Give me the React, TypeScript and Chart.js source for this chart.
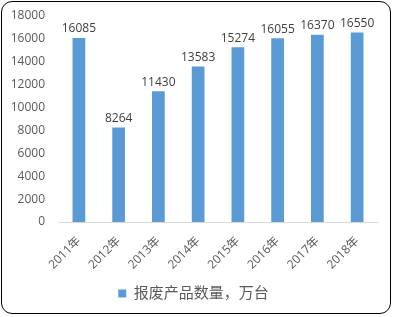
import React, { useEffect, useRef } from "react";
import { Chart, registerables } from "chart.js";

Chart.register(...registerables);

const categories = ["2011年", "2012年", "2013年", "2014年", "2015年", "2016年", "2017年", "2018年"];
const values = [16085, 8264, 11430, 13583, 15274, 16055, 16370, 16550];
const seriesName = "报废产品数量，万台";
const yMax = 18000;
const yStep = 2000;

const FONT = '"Open Sans", "Noto Sans CJK SC", sans-serif';
const TEXT = "#595959";

const valueLabels = {
  id: "valueLabels",
  afterDatasetsDraw(chart: any) {
    const ctx = chart.ctx;
    const meta = chart.getDatasetMeta(0);
    ctx.save();
    ctx.font = `12px ${FONT}`;
    ctx.fillStyle = "#404040";
    ctx.textAlign = "center";
    ctx.textBaseline = "bottom";
    meta.data.forEach((el: any, i: number) => {
      const v = chart.data.datasets[0].data[i];
      ctx.fillText(String(v), el.x, el.y - 3);
    });
    ctx.restore();
  },
};

export default function App() {
  const ref = useRef<HTMLCanvasElement>(null);
  useEffect(() => {
    if (!ref.current) return;
    const chart = new Chart(ref.current, {
      type: "bar",
      data: {
        labels: categories,
        datasets: [
          {
            label: seriesName,
            data: values,
            backgroundColor: "#5B9BD5",
            categoryPercentage: 1,
            barPercentage: 0.32,
          },
        ],
      },
      options: {
        animation: false,
        responsive: false,
        maintainAspectRatio: false,
        layout: { padding: { left: 10, right: 16, top: 16, bottom: 6 } },
        plugins: {
          legend: {
            position: "bottom",
            labels: {
              boxWidth: 8,
              boxHeight: 8,
              color: TEXT,
              font: { size: 15, family: FONT },
              padding: 10,
            },
          },
          tooltip: { enabled: false },
        },
        scales: {
          x: {
            grid: { display: false, drawTicks: false },
            border: { display: true, color: "#D9D9D9", width: 1 },
            ticks: {
              color: TEXT,
              font: { size: 12, family: FONT },
              minRotation: 45,
              maxRotation: 45,
              padding: 12,
            },
            afterFit: (s: any) => {
              s.height = 54;
              s.paddingLeft = 0;
              s.paddingRight = 0;
            },
          },
          y: {
            min: 0,
            max: yMax,
            grid: { display: false, drawTicks: false },
            border: { display: false },
            ticks: {
              stepSize: yStep,
              color: TEXT,
              font: { size: 12, family: FONT },
              padding: 14,
              callback: (v: any) => String(v),
            },
            afterFit: (s: any) => {
              s.width = 49;
              s.paddingTop = 0;
              s.paddingBottom = 0;
            },
          },
        },
      },
      plugins: [valueLabels],
    });
    return () => chart.destroy();
  }, []);
  return (
    <div style={{ position: "fixed", left: 0, top: 0, width: 393, height: 317, background: "#fff" }}>
      <canvas ref={ref} width={393} height={317} style={{ position: "absolute", left: 0, top: 0 }} />
      <div
        style={{
          position: "absolute",
          left: 1,
          top: 1,
          width: 388,
          height: 311,
          border: "1.5px solid #000",
          borderRadius: 11,
          pointerEvents: "none",
        }}
      />
    </div>
  );
}
